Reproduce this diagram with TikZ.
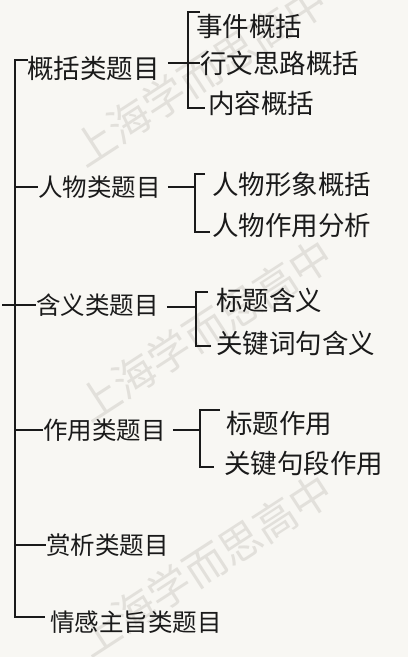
\documentclass[tikz,border=0pt]{standalone}
\usepackage{fontspec}
\newfontfamily\cjk{Noto Sans CJK SC}
\definecolor{paper}{HTML}{F8F7F3}
\definecolor{ink}{HTML}{1A1A1A}
\definecolor{wm}{HTML}{E2E0DB}
\begin{document}
\begin{tikzpicture}[x=1pt,y=-1pt,
  cat/.style={anchor=west,inner sep=0pt,font=\cjk\fontsize{24.5}{24}\selectfont,text=ink},
  sub/.style={anchor=west,inner sep=0pt,font=\cjk\fontsize{26.5}{26}\selectfont,text=ink},
  wmark/.style={font=\cjk\fontsize{42}{42}\selectfont,text=wm,rotate=33,inner sep=0pt},
  ln/.style={draw=ink,line width=1.1pt}]
\fill[paper] (0,0) rectangle (408,657);
\useasboundingbox (0,0) rectangle (408,657);
% watermarks
\node[wmark] (w1) at (200,75) {上海学而思高中};
\node[wmark] (w2) at (205,330) {上海学而思高中};
\node[wmark] (w3) at (205,565) {上海学而思高中};
% spine
\coordinate (top) at (15,60);
\coordinate (bot) at (15,617);
\coordinate (root) at (2,305);
\draw[ln] (28,60) -- (top) -- (bot) -- (45,617);
\draw[ln] (root) -- (15,305);
% categories
\node[cat,font=\cjk\fontsize{26.5}{26}\selectfont] (c1) at (27,68) {概括类题目};
\node[cat] (c2) at (38,187) {人物类题目};
\node[cat] (c3) at (36,305) {含义类题目};
\node[cat] (c4) at (43,430) {作用类题目};
\node[cat] (c5) at (46,545) {赏析类题目};
\node[cat] (c6) at (50,622) {情感主旨类题目};
\draw[ln] (15,187) -- (c2.west);
\draw[ln] (15,305) -- (c3.west);
\draw[ln] (15,430) -- (c4.west);
\draw[ln] (15,545) -- (c5.west);
% group 1
\node[sub] (s11) at (196,26) {事件概括};
\node[sub] (s12) at (200,63) {行文思路概括};
\node[sub] (s13) at (208,103) {内容概括};
\coordinate (b1) at (188,63);
\draw[ln] (c1.east) ++(8,-5) -- (b1);
\draw[ln] (200,12) -- (188,12) -- (188,108) -- (205,108);
\draw[ln] (b1) -- (s12.west);
% group 2
\node[sub] (s21) at (212,184) {人物形象概括};
\node[sub] (s22) at (212,225) {人物作用分析};
\coordinate (b2) at (195,187);
\draw[ln] (c2.east) ++(7,0) -- (b2);
\draw[ln] (205,174) -- (195,174) -- (195,232) -- (210,232);
% group 3
\node[sub] (s31) at (216,300) {标题含义};
\node[sub] (s32) at (216,343) {关键词句含义};
\coordinate (b3) at (196,307);
\draw[ln] (c3.east) ++(8,2) -- (b3);
\draw[ln] (208,292) -- (196,292) -- (196,346) -- (211,346);
% group 4
\node[sub] (s41) at (226,423) {标题作用};
\node[sub] (s42) at (224,463) {关键句段作用};
\coordinate (b4) at (200,430);
\draw[ln] (c4.east) ++(7,0) -- (b4);
\draw[ln] (220,410) -- (200,410) -- (200,467) -- (214,467);
\end{tikzpicture}
\end{document}
